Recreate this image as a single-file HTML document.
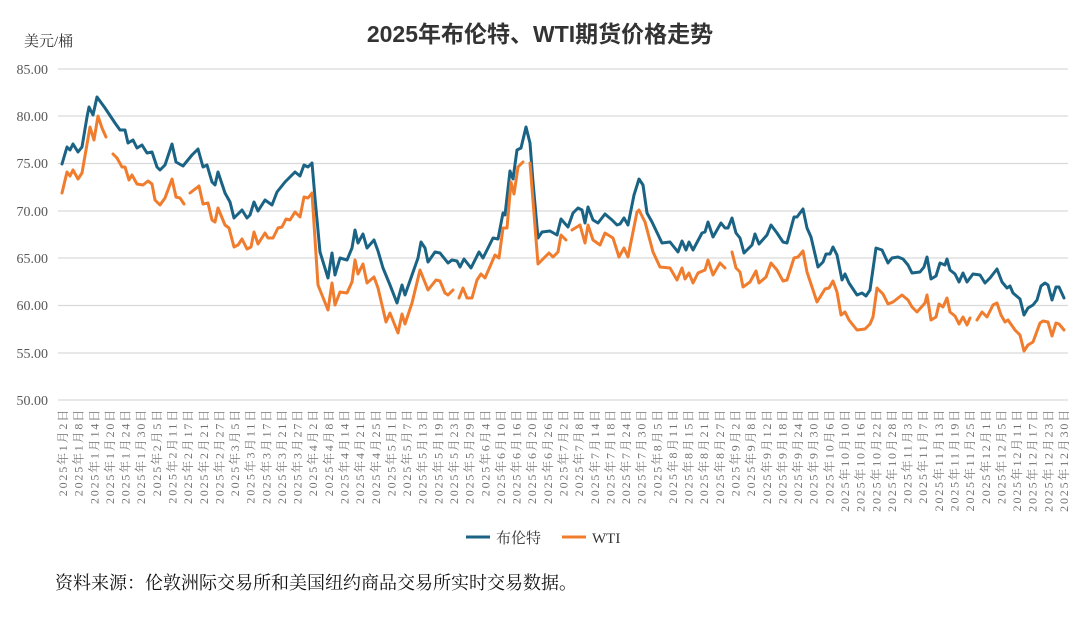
<!DOCTYPE html>
<html><head><meta charset="utf-8"><style>
body{margin:0;background:#fff;}
svg text{font-family:"Liberation Serif","Noto Serif CJK SC",serif;}
</style></head><body>
<svg width="1080" height="615" xmlns="http://www.w3.org/2000/svg">
<rect width="1080" height="615" fill="#fff"/>
<text x="540" y="42" text-anchor="middle" font-size="23" font-weight="bold" fill="#333" style="font-family:'Liberation Sans','Noto Sans CJK SC',sans-serif">2025年布伦特、WTI期货价格走势</text>
<text x="24" y="46" font-size="15" fill="#333">美元/桶</text>
<g stroke="#d9d9d9" stroke-width="1.2">
<line x1="58" y1="69" x2="1068" y2="69"/><line x1="58" y1="116" x2="1068" y2="116"/><line x1="58" y1="163.5" x2="1068" y2="163.5"/><line x1="58" y1="211" x2="1068" y2="211"/><line x1="58" y1="258" x2="1068" y2="258"/><line x1="58" y1="305.5" x2="1068" y2="305.5"/><line x1="58" y1="353" x2="1068" y2="353"/><line x1="58" y1="400" x2="1068" y2="400"/>
</g>
<g font-size="14" fill="#595959" text-anchor="end">
<text x="48" y="74">85.00</text><text x="48" y="121">80.00</text><text x="48" y="168">75.00</text><text x="48" y="216">70.00</text><text x="48" y="263">65.00</text><text x="48" y="310">60.00</text><text x="48" y="358">55.00</text><text x="48" y="405">50.00</text>
</g>
<g font-size="12" fill="#707070" text-anchor="end" letter-spacing="1.8">
<text transform="translate(67.0,408) rotate(-90)">2025年1月2日</text>
<text transform="translate(82.6,408) rotate(-90)">2025年1月8日</text>
<text transform="translate(98.3,408) rotate(-90)">2025年1月14日</text>
<text transform="translate(113.9,408) rotate(-90)">2025年1月20日</text>
<text transform="translate(129.6,408) rotate(-90)">2025年1月24日</text>
<text transform="translate(145.2,408) rotate(-90)">2025年1月30日</text>
<text transform="translate(160.8,408) rotate(-90)">2025年2月5日</text>
<text transform="translate(176.5,408) rotate(-90)">2025年2月11日</text>
<text transform="translate(192.1,408) rotate(-90)">2025年2月17日</text>
<text transform="translate(207.8,408) rotate(-90)">2025年2月21日</text>
<text transform="translate(223.4,408) rotate(-90)">2025年2月27日</text>
<text transform="translate(239.0,408) rotate(-90)">2025年3月5日</text>
<text transform="translate(254.7,408) rotate(-90)">2025年3月11日</text>
<text transform="translate(270.3,408) rotate(-90)">2025年3月17日</text>
<text transform="translate(286.0,408) rotate(-90)">2025年3月21日</text>
<text transform="translate(301.6,408) rotate(-90)">2025年3月27日</text>
<text transform="translate(317.2,408) rotate(-90)">2025年4月2日</text>
<text transform="translate(332.9,408) rotate(-90)">2025年4月8日</text>
<text transform="translate(348.5,408) rotate(-90)">2025年4月14日</text>
<text transform="translate(364.2,408) rotate(-90)">2025年4月21日</text>
<text transform="translate(379.8,408) rotate(-90)">2025年4月25日</text>
<text transform="translate(395.4,408) rotate(-90)">2025年5月1日</text>
<text transform="translate(411.1,408) rotate(-90)">2025年5月7日</text>
<text transform="translate(426.7,408) rotate(-90)">2025年5月13日</text>
<text transform="translate(442.4,408) rotate(-90)">2025年5月19日</text>
<text transform="translate(458.0,408) rotate(-90)">2025年5月23日</text>
<text transform="translate(473.6,408) rotate(-90)">2025年5月29日</text>
<text transform="translate(489.3,408) rotate(-90)">2025年6月4日</text>
<text transform="translate(504.9,408) rotate(-90)">2025年6月10日</text>
<text transform="translate(520.6,408) rotate(-90)">2025年6月16日</text>
<text transform="translate(536.2,408) rotate(-90)">2025年6月20日</text>
<text transform="translate(551.8,408) rotate(-90)">2025年6月26日</text>
<text transform="translate(567.5,408) rotate(-90)">2025年7月2日</text>
<text transform="translate(583.1,408) rotate(-90)">2025年7月8日</text>
<text transform="translate(598.8,408) rotate(-90)">2025年7月14日</text>
<text transform="translate(614.4,408) rotate(-90)">2025年7月18日</text>
<text transform="translate(630.0,408) rotate(-90)">2025年7月24日</text>
<text transform="translate(645.7,408) rotate(-90)">2025年7月30日</text>
<text transform="translate(661.3,408) rotate(-90)">2025年8月5日</text>
<text transform="translate(677.0,408) rotate(-90)">2025年8月11日</text>
<text transform="translate(692.6,408) rotate(-90)">2025年8月15日</text>
<text transform="translate(708.2,408) rotate(-90)">2025年8月21日</text>
<text transform="translate(723.9,408) rotate(-90)">2025年8月27日</text>
<text transform="translate(739.5,408) rotate(-90)">2025年9月2日</text>
<text transform="translate(755.2,408) rotate(-90)">2025年9月8日</text>
<text transform="translate(770.8,408) rotate(-90)">2025年9月12日</text>
<text transform="translate(786.4,408) rotate(-90)">2025年9月18日</text>
<text transform="translate(802.1,408) rotate(-90)">2025年9月24日</text>
<text transform="translate(817.7,408) rotate(-90)">2025年9月30日</text>
<text transform="translate(833.4,408) rotate(-90)">2025年10月6日</text>
<text transform="translate(849.0,408) rotate(-90)">2025年10月10日</text>
<text transform="translate(864.6,408) rotate(-90)">2025年10月16日</text>
<text transform="translate(880.3,408) rotate(-90)">2025年10月22日</text>
<text transform="translate(895.9,408) rotate(-90)">2025年10月28日</text>
<text transform="translate(911.6,408) rotate(-90)">2025年11月3日</text>
<text transform="translate(927.2,408) rotate(-90)">2025年11月7日</text>
<text transform="translate(942.8,408) rotate(-90)">2025年11月13日</text>
<text transform="translate(958.5,408) rotate(-90)">2025年11月19日</text>
<text transform="translate(974.1,408) rotate(-90)">2025年11月25日</text>
<text transform="translate(989.8,408) rotate(-90)">2025年12月1日</text>
<text transform="translate(1005.4,408) rotate(-90)">2025年12月5日</text>
<text transform="translate(1021.0,408) rotate(-90)">2025年12月11日</text>
<text transform="translate(1036.7,408) rotate(-90)">2025年12月17日</text>
<text transform="translate(1052.3,408) rotate(-90)">2025年12月23日</text>
<text transform="translate(1068.0,408) rotate(-90)">2025年12月30日</text>
</g>
<g fill="none" stroke-width="3" stroke-linejoin="round" stroke-linecap="round">
<polyline stroke="#1a6384" points="62,164 67,147 70,150 73,144 78,152 82,147 87,117 89,107 93,115 97,97 105,108 115,123 120,130 125,130 128,143 133,140 137,148 142,145 147,153 152,152 157,167 160,170 165,165 172,144 176,162 183,166 192,155 198,149 203,167 207,165 212,182 215,185 218,172 225,193 230,202 234,218 242,210 247,218 250,215 254,202 258,211 265,200 272,205 277,192 285,182 295,172 300,176 304,165 308,167 312,163 315,198 320,252 328,278 332,253 335,275 340,258 347,260 352,248 355,230 358,243 363,234 367,248 374,240 378,251 383,268 390,285 397,303 402,285 405,295 412,275 418,258 421,242 425,248 428,262 435,252 440,253 448,263 452,260 457,261 460,267 464,259 471,268 479,252 483,258 493,238 498,239 503,213 505,215 510,171 513,179 517,150 521,148 526,127 530,143 533,182 538,238 542,232 550,231 557,235 561,219 568,227 573,213 578,208 582,210 585,223 588,207 593,220 598,223 605,214 612,220 617,225 620,224 624,218 628,225 634,195 639,179 643,185 647,213 652,222 662,243 670,242 678,252 682,241 686,250 689,242 693,250 702,233 705,232 708,222 713,237 721,223 725,228 728,228 732,218 736,233 740,238 744,253 752,245 755,234 759,244 767,235 771,225 777,233 783,242 787,243 794,217 797,217 803,209 807,228 811,237 818,267 823,262 826,254 830,254 833,247 837,255 842,280 845,274 849,283 857,295 862,293 866,296 870,290 876,248 882,250 888,263 892,258 898,257 903,259 908,265 912,273 920,272 924,267 927,257 931,279 936,276 940,263 945,265 947,259 950,270 955,274 959,282 963,273 967,282 973,274 980,275 985,283 990,278 997,269 1002,282 1007,288 1010,286 1013,293 1020,299 1024,315 1028,308 1033,305 1037,300 1041,286 1045,283 1048,285 1052,300 1056,287 1059,287 1064,298"/>
<g stroke="#f07c2e">
<polyline points="62,193 67,172 70,176 73,170 78,179 82,173 90,127 94,140 98,116 102,128 106,137"/>
<polyline points="113,154 117,158 122,167 125,167 129,180 132,175 137,184 143,185 148,181 152,184 155,200 160,205 165,198 172,179 176,197 180,198 184,204"/>
<polyline points="190,193 199,186 203,204 208,203 212,220 215,222 218,208 225,225 229,228 234,247 238,245 242,239 247,249 251,247 254,232 258,244 265,233 268,238 273,238 278,228 282,227 286,219 290,220 295,212 300,217 304,197 308,198 312,193 318,285 328,310 332,283 335,305 340,292 347,293 352,282 355,260 358,274 363,264 367,283 374,277 378,288 386,322 390,313 398,333 402,314 405,324 412,303 420,270 428,290 436,280 440,281 445,293 448,295 453,290"/>
<polyline points="459,298 463,288 467,298 472,298 477,280 481,274 485,278 495,255 499,258 503,228 507,228 511,182 514,194 518,167 523,162"/>
<polyline points="530,163 538,264 542,260 549,253 553,257 558,252 561,235 566,240"/>
<polyline points="572,230 580,225 585,243 588,225 593,240 600,245 605,233 613,238 619,257 624,248 628,257 637,212 639,210 645,222 653,252 660,267 670,268 677,280 682,268 685,279 689,273 693,283 698,273 705,270 708,260 713,275 720,263 725,268"/>
<polyline points="732,252 736,268 740,272 743,287 750,282 756,271 759,283 766,277 771,263 777,270 783,281 787,280 794,258 798,257 803,251 807,272 817,302 825,289 829,288 833,281 837,292 841,315 845,312 849,320 857,330 865,329 870,324 873,317 877,288 883,294 888,304 893,302 902,295 908,300 912,307 917,312 925,303 927,295 931,320 936,317 939,304 943,307 947,298 950,312 955,316 959,324 963,317 967,325 970,318"/>
<polyline points="977,320 982,312 987,317 993,305 997,303 1001,315 1005,322 1008,320 1015,330 1020,335 1024,351 1028,345 1033,342 1040,323 1043,321 1048,322 1052,336 1056,323 1059,324 1064,330"/>
</g>
</g>
<line x1="466" y1="537" x2="490" y2="537" stroke="#1a6384" stroke-width="3"/>
<text x="496" y="543" font-size="15" fill="#333">布伦特</text>
<line x1="562" y1="537" x2="586" y2="537" stroke="#f07c2e" stroke-width="3"/>
<text x="592" y="543" font-size="15" fill="#333">WTI</text>
<text x="55" y="589" font-size="18" fill="#111">资料来源：伦敦洲际交易所和美国纽约商品交易所实时交易数据。</text>
</svg>
</body></html>
